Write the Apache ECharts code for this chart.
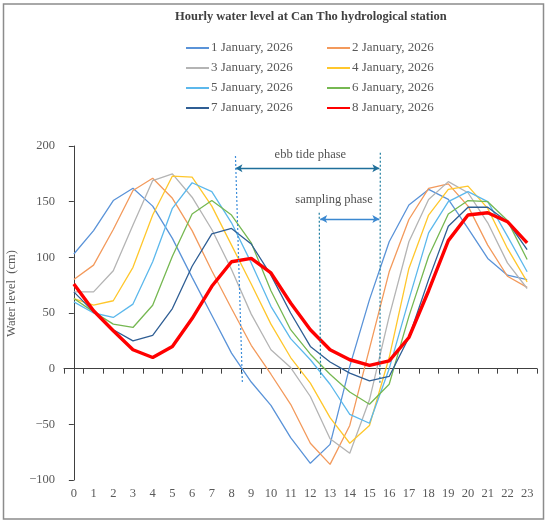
<!DOCTYPE html>
<html><head><meta charset="utf-8">
<script src="https://cdn.jsdelivr.net/npm/echarts@6/dist/echarts.min.js"></script>
<style>html,body{margin:0;padding:0;background:#fff}#c{width:550px;height:523px}</style>
</head><body><div id="c"></div>
<script>
// ---- data ----
const hours = ['0','1','2','3','4','5','6','7','8','9','10','11','12','13','14','15','16','17','18','19','20','21','22','23'];
const seriesNames = ['1 January, 2026','2 January, 2026','3 January, 2026','4 January, 2026','5 January, 2026','6 January, 2026','7 January, 2026','8 January, 2026'];
const jan1 = [103,124,151,162,146,117,82,48,14,-12,-33,-62,-85,-68,2,62,114,147,161,152,126,99,84,80];
const jan2 = [80,93,125,160,171,153,124,88,54,21,-5,-32,-67,-86,-51,18,87,134,162,166,146,111,83,73];
const jan3 = [69,69,88,129,169,175,154,125,89,49,17,1,-25,-63,-76,-28,47,114,152,168,158,131,95,72];
const jan4 = [63,57,61,91,138,173,172,146,111,76,40,10,-13,-44,-67,-51,10,90,138,161,164,144,108,78];
const jan5 = [60,50,46,58,96,144,167,159,131,95,56,27,8,-14,-41,-49,0,62,122,150,159,150,119,87];
const jan6 = [63,51,40,37,57,101,139,151,138,113,70,35,13,-5,-21,-32,-14,47,101,139,151,150,133,98];
const jan7 = [69,51,35,25,30,54,92,121,126,112,84,50,20,6,-4,-11,-7,28,80,128,145,145,132,107];
const jan8 = [76,52,34,17,10,20,45,74,96,99,86,59,35,17,8,3,7,28,70,115,138,140,132,113];
const yMin = -100, yMax = 200, yStep = 50;
// annotation geometry in data units (x in hours, y in cm)
const ebbLeftLine = [[8.2,191],[8.55,-12]];
const samplingLeftLine = [[12.45,140],[12.52,-8]];
const rightLine = [[15.55,194],[15.53,-14]];
const ebbArrow = [[8.2,180],[15.5,180]];
const samplingArrow = [[12.5,134.5],[15.5,134.5]];
const annotationLabels = [{name:'ebb tide phase', value:[12.0,192]},{name:'sampling phase', value:[13.2,152]}];

const allSeries = [jan1,jan2,jan3,jan4,jan5,jan6,jan7,jan8];
const colors = ['#5A93D8','#F39A5C','#B4B4B4','#FFC72C','#5CB8EC','#76B852','#2F5E94','#FF0000'];
const FONT = 'Liberation Serif';
const GREY = '#595959';

const series = allSeries.map((d,i)=>({
  name: seriesNames[i], type:'line', data:d, symbol:'none', smooth:false,
  lineStyle:{width: i===7?3.4:1.3, color: colors[i]}, itemStyle:{color:colors[i]},
  z: i===7?5:3, silent:true
}));
function dashSeries(pts,color){
  return {type:'line', xAxisIndex:1, data:pts, symbol:'none', silent:true, z:6,
    lineStyle:{width:1.2,color:color,type:[2,2]}};
}
series.push(dashSeries(ebbLeftLine,'#3C8DDA'));
series.push(dashSeries(samplingLeftLine,'#1F7EA0'));
const rs = dashSeries(rightLine,'#1F7EA0');
rs.markLine = {silent:true, symbol:['arrow','arrow'], symbolSize:[6,7], label:{show:false},
  data:[
    [{coord:ebbArrow[0], lineStyle:{color:'#1F6F9A',width:1.3,type:'solid'}},{coord:ebbArrow[1]}],
    [{coord:samplingArrow[0], lineStyle:{color:'#3B88D0',width:1.3,type:'solid'}},{coord:samplingArrow[1]}]
  ]};
series.push(rs);
series.push({type:'scatter', xAxisIndex:1, data:annotationLabels, symbolSize:1, silent:true,
  itemStyle:{color:'rgba(0,0,0,0)'},
  label:{show:true, position:'inside', formatter:'{b}', color:'#262626', fontFamily:FONT, fontSize:12.5}});

const legendCommon = {orient:'vertical', top:41, padding:0, itemGap:6, itemWidth:23, itemHeight:14,
  itemStyle:{opacity:0}, selectedMode:false,
  textStyle:{color:GREY, fontFamily:FONT, fontSize:13, lineHeight:14, padding:[0,0,0,-3]}};

const chart = echarts.init(document.getElementById('c'), null, {renderer:'canvas'});
chart.setOption({
  animation:false,
  backgroundColor:'#fff',
  title:{text:'Hourly water level at Can Tho hydrological station', left:175, top:10, padding:0,
    textStyle:{fontFamily:FONT, fontWeight:'bold', fontSize:12.5, color:'#404040'}},
  legend:[
    Object.assign({}, legendCommon, {left:185, data:[seriesNames[0],seriesNames[2],seriesNames[4],seriesNames[6]]}),
    Object.assign({}, legendCommon, {left:326, data:[seriesNames[1],seriesNames[3],seriesNames[5],seriesNames[7]]})
  ],
  grid:{left:64, right:13, top:146, bottom:43, containLabel:false, outerBoundsMode:'none'},
  xAxis:[{type:'category', data:hours, boundaryGap:true,
      name:'Time (h)', nameLocation:'middle', nameGap:131,
      nameTextStyle:{color:GREY, fontFamily:FONT, fontSize:12.5},
      axisLine:{onZero:true, lineStyle:{color:'#404040', width:1}},
      axisTick:{show:true, interval:0, length:5, inside:false, lineStyle:{color:'#404040'}},
      axisLabel:{interval:0, color:GREY, fontFamily:FONT, fontSize:12.5, margin:7},
      splitLine:{show:false}},
    {type:'value', min:-0.5, max:23.5, show:false}],
  yAxis:{type:'value', min:yMin, max:yMax, interval:yStep,
    name:'Water level  (cm)', nameLocation:'middle', nameGap:44, nameRotate:90,
    nameTextStyle:{color:GREY, fontFamily:FONT, fontSize:12.5, padding:[0,0,0,39]},
    axisLine:{show:true, lineStyle:{color:'#404040', width:1}},
    axisTick:{show:true, length:5, lineStyle:{color:'#404040'}},
    axisLabel:{color:GREY, fontFamily:FONT, fontSize:12.5, margin:9,
      formatter:v=>String(v).replace('-','\u2212')},
    splitLine:{show:false}},
  graphic:[{type:'rect', silent:true, z:-1, shape:{x:3.5, y:4, width:540, height:515},
    style:{fill:'none', stroke:'#8c8c8c', lineWidth:1.5}}],
  series: series
});
</script></body></html>
